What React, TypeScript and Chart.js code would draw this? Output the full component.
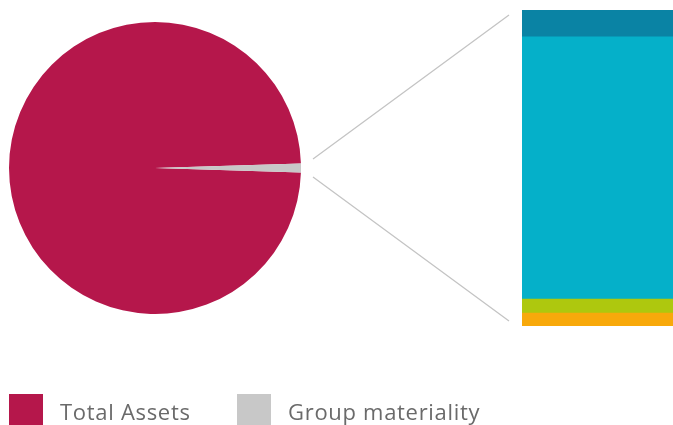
import React, { useEffect, useRef } from "react";
import { Chart, registerables } from "chart.js";

Chart.register(...registerables);

const pieLabels = ["Total Assets", "Group materiality"];
const pieValues = [99, 1];
const pieColors = ["#b5174b", "#c8c8c8"];

const barLabels = ["Segment D", "Segment C", "Segment B", "Segment A"];
const barValues = [4.1, 4.4, 82.9, 8.5];
const barColors = ["#f8a90b", "#aec80e", "#05b0c9", "#0a83a4"];

const connectorPlugin = {
  id: "connector",
  afterDraw(chart: any) {
    const { ctx, chartArea } = chart;
    const pieCy = 168;
    const x0 = 313;
    const x1 = chartArea.left - 13;
    ctx.save();
    ctx.strokeStyle = "#c4c4c4";
    ctx.lineWidth = 1.3;
    ctx.beginPath();
    ctx.moveTo(x0, pieCy - 9);
    ctx.lineTo(x1, chartArea.top + 5);
    ctx.moveTo(x0, pieCy + 9);
    ctx.lineTo(x1, chartArea.bottom - 5);
    ctx.stroke();
    ctx.restore();
  },
};

export default function App() {
  const pieRef = useRef<HTMLCanvasElement>(null);
  const barRef = useRef<HTMLCanvasElement>(null);

  useEffect(() => {
    const total = pieValues.reduce((a, b) => a + b, 0);
    const rotation = 90 + (pieValues[1] / total) * 180;
    const pie = new Chart(pieRef.current!, {
      type: "pie",
      data: {
        labels: pieLabels,
        datasets: [
          {
            data: pieValues,
            backgroundColor: pieColors,
            borderWidth: 0,
          },
        ],
      },
      options: {
        animation: false,
        responsive: true,
        maintainAspectRatio: false,
        rotation,
        plugins: { legend: { display: false }, tooltip: { enabled: false } },
      },
    });

    const barTotal = barValues.reduce((a, b) => a + b, 0);
    const bar = new Chart(barRef.current!, {
      type: "bar",
      data: {
        labels: [""],
        datasets: barLabels.map((l, i) => ({
          label: l,
          data: [barValues[i]],
          backgroundColor: barColors[i],
          borderWidth: 0,
          barPercentage: 1,
          categoryPercentage: 1,
        })),
      },
      options: {
        animation: false,
        responsive: true,
        maintainAspectRatio: false,
        layout: { padding: { left: 522, top: 10, bottom: 99, right: 0 } },
        scales: {
          x: { stacked: true, display: false },
          y: { stacked: true, display: false, min: 0, max: barTotal },
        },
        plugins: { legend: { display: false }, tooltip: { enabled: false } },
      },
      plugins: [connectorPlugin],
    });

    return () => {
      pie.destroy();
      bar.destroy();
    };
  }, []);

  const legendLefts = [9, 237];

  return (
    <div
      style={{
        position: "absolute",
        left: 0,
        top: 0,
        width: 673,
        height: 425,
        background: "#ffffff",
        overflow: "hidden",
      }}
    >
      <div style={{ position: "absolute", left: 9, top: 22, width: 292, height: 292 }}>
        <canvas ref={pieRef} />
      </div>
      <div style={{ position: "absolute", left: 0, top: 0, width: 673, height: 425 }}>
        <canvas ref={barRef} />
      </div>
      {pieLabels.map((label, i) => (
        <div
          key={label}
          style={{
            position: "absolute",
            left: legendLefts[i],
            top: 393,
            display: "flex",
            alignItems: "center",
            fontFamily: "'Open Sans', sans-serif",
            fontSize: 22,
            color: "#6a6a6a",
            letterSpacing: 0.7,
            whiteSpace: "nowrap",
          }}
        >
          <div
            style={{
              width: 34,
              height: 32,
              background: pieColors[i],
              marginRight: 17,
            }}
          />
          <span style={{ lineHeight: "32px", paddingTop: 2 }}>{label}</span>
        </div>
      ))}
    </div>
  );
}
